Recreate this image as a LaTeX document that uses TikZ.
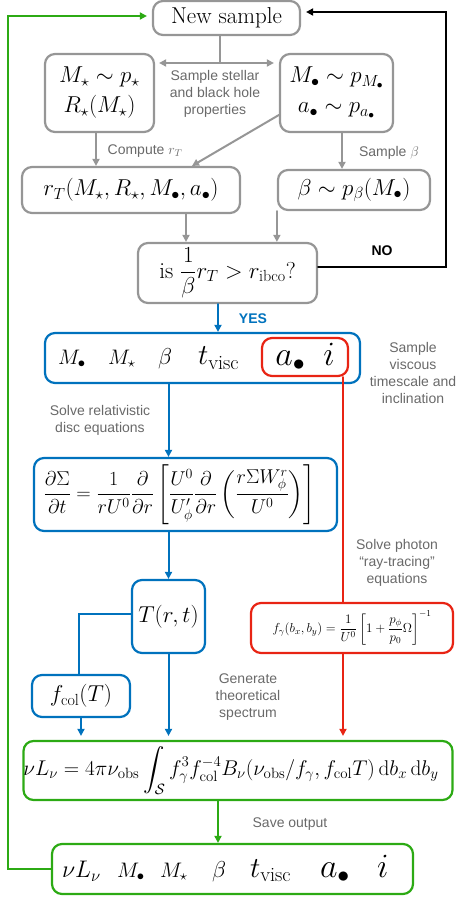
\RequirePackage{fix-cm}
\documentclass[tikz,border=0pt]{standalone}
\usepackage{amsmath,amssymb}
\usepackage{fontspec}
\newfontfamily\labelsf{Liberation Sans}
\usetikzlibrary{arrows.meta}
\definecolor{boxgray}{RGB}{150,150,150}
\definecolor{notegray}{RGB}{105,105,105}
\definecolor{discblue}{RGB}{0,114,189}
\definecolor{rayred}{RGB}{232,36,20}
\definecolor{outgreen}{RGB}{44,170,20}

\begin{document}
\begin{tikzpicture}[x=1pt,y=-1pt,>={Triangle[length=7pt,width=7pt]},line cap=round,
  every node/.style={font=\fontsize{23}{28}\selectfont},
  box/.style={draw,rounded corners=10pt,line width=2.2pt,align=center,inner sep=0pt},
  graybox/.style={box,draw=boxgray},
  bluebox/.style={box,draw=discblue},
  redbox/.style={box,draw=rayred},
  greenbox/.style={box,draw=outgreen},
  note/.style={font=\labelsf\fontsize{14}{17}\selectfont,text=notegray,align=center},
  grayline/.style={draw=boxgray,line width=2pt},
  blueline/.style={draw=discblue,line width=2pt},
  redline/.style={draw=rayred,line width=2pt},
  greenline/.style={draw=outgreen,line width=2pt},
  blackline/.style={draw=black,line width=2pt}]
\useasboundingbox (0,0) rectangle (457,899);

\node[graybox,minimum width=147,minimum height=34] (new) at (226.5,18) {New sample};
\node[graybox,minimum width=109,minimum height=78] (star) at (99.5,93) {$M_\star\sim p_\star$\\[2pt]$R_\star(M_\star)$};
\node[graybox,minimum width=113,minimum height=78] (hole) at (336.5,93) {$M_\bullet\sim p_{M_\bullet}$\\[2pt]$a_\bullet\sim p_{a_\bullet}$};
\node[graybox,minimum width=218,minimum height=46] (rt) at (131,190) {$r_T(M_\star,R_\star,M_\bullet,a_\bullet)$};
\node[graybox,minimum width=152,minimum height=40] (beta) at (354,190) {$\beta\sim p_\beta(M_\bullet)$};
\node[graybox,minimum width=179,minimum height=60] (test) at (227.5,273) {is $\dfrac{1}{\beta}r_T>r_{\rm ibco}$?};

\node[bluebox,minimum width=315,minimum height=50] (par) at (202.5,358) {\makebox[311pt][l]{\hspace*{11pt}%
\rlap{\fontsize{21}{25}\selectfont$M_\bullet$}\hspace{50pt}%
\rlap{\fontsize{21}{25}\selectfont$M_\star$}\hspace{50pt}%
\rlap{\fontsize{23}{28}\selectfont$\beta$}\hspace{40pt}%
\rlap{\fontsize{29}{34}\selectfont$t_{\rm visc}$}}};
\node[redbox,minimum width=86,minimum height=38] (spin) at (305,357) {\fontsize{34}{40}\selectfont$a_\bullet$\hspace{18pt}$i$};

\node[bluebox,minimum width=303,minimum height=73] (disc) at (185.5,494.5) {\fontsize{20}{24}\selectfont$\displaystyle\frac{\partial\Sigma}{\partial t}=\frac{1}{rU^0}\frac{\partial}{\partial r}\left[\frac{U^0}{U^\prime_\phi}\frac{\partial}{\partial r}\left(\frac{r\Sigma W^r_\phi}{U^0}\right)\right]$\hspace{12pt}};
\node[bluebox,minimum size=73] (temp) at (168.5,616.5) {$T(r,t)$};
\node[redbox,minimum width=202,minimum height=50] (ray) at (352,628) {\fontsize{13}{16}\selectfont$f_\gamma(b_x,b_y)=\dfrac{1}{U^0}\left[1+\dfrac{p_\phi}{p_0}\Omega\right]^{-1}$};
\node[bluebox,minimum width=98,minimum height=42] (fcol) at (81,696) {$f_{\rm col}(T)$};
\node[greenbox,minimum width=428,minimum height=59] (spec) at (238,770.5) {\fontsize{21.3}{26}\selectfont$\displaystyle\nu L_\nu=4\pi\nu_{\rm obs}\int_{\mathcal{S}}f_\gamma^3f_{\rm col}^{-4}B_\nu(\nu_{\rm obs}/f_\gamma,f_{\rm col}T)\,{\rm d}b_x\,{\rm d}b_y$\hspace{14pt}};
\node[greenbox,minimum width=361,minimum height=50] (out) at (232.5,869) {\makebox[357pt][l]{\hspace*{8pt}%
\rlap{\fontsize{24}{28}\selectfont$\nu L_\nu$}\hspace{55pt}%
\rlap{\fontsize{21}{25}\selectfont$M_\bullet$}\hspace{43pt}%
\rlap{\fontsize{21}{25}\selectfont$M_\star$}\hspace{52pt}%
\rlap{\fontsize{23}{28}\selectfont$\beta$}\hspace{38pt}%
\rlap{\fontsize{29}{34}\selectfont$t_{\rm visc}$}\hspace{70pt}%
\rlap{\fontsize{34}{40}\selectfont$a_\bullet$}\hspace{57pt}%
\rlap{\fontsize{34}{40}\selectfont$i$}}};

\node[note] (props) at (215,94) {Sample stellar\\and black hole\\properties};
\node[note] (comp) at (145,151) {Compute $r_T$};
\node[note] (samp) at (389,153) {Sample $\beta$};
\node[note] (visc) at (413,373) {Sample\\viscous\\timescale and\\inclination};
\node[note] (solve) at (100,420) {Solve relativistic\\disc equations};
\node[note] (photon) at (397,563) {Solve photon\\“ray-tracing”\\equations};
\node[note] (gen) at (248,697) {Generate\\theoretical\\spectrum};
\node[note] (save) at (290,824) {Save output};
\node[note,font=\labelsf\bfseries\fontsize{14}{17}\selectfont,text=black] (no) at (382,251) {NO};
\node[note,font=\labelsf\bfseries\fontsize{14}{17}\selectfont,text=discblue] (yes) at (253,319) {YES};

\coordinate (fork) at (220,63);
\draw[grayline] (new.south -| fork) -- (fork);
\draw[grayline,<->,shorten <=4pt,shorten >=5pt] (star.east |- fork) -- (hole.west |- fork);
\draw[grayline,->] (96,0 |- star.south) -- (96,0 |- rt.north);
\draw[grayline,->] ([yshift=-22pt]hole.west) -- ([xshift=61pt]rt.north);
\draw[grayline,->] (342,0 |- hole.south) -- (342,0 |- beta.north);
\draw[grayline,->] (186,0 |- rt.south) -- (186,0 |- test.north);
\draw[grayline,->] (beta.south west) -- (beta.south west |- test.north);
\draw[blackline,->,shorten >=5pt] ([yshift=6pt]test.east) -| (446,12) -- (new.east |- 0,12);
\draw[blueline,->] (218,0 |- test.south) -- (218,0 |- par.north);
\draw[blueline,->] (temp.north |- par.south) -- (temp.north |- disc.north);
\draw[blueline,->] (temp.north |- disc.south) -- (temp.north);
\draw[blueline] ([yshift=3pt]temp.west) -| (79,0 |- fcol.north);
\draw[blueline,->,shorten >=4pt] (temp.south) -- (temp.south |- spec.north);
\draw[blueline,->,shorten >=4pt] (fcol.south) -- (fcol.south |- spec.north);
\draw[redline] (343,0 |- spin.south) -- (343,0 |- ray.north);
\draw[redline,->,shorten >=4pt] (343,0 |- ray.south) -- (343,0 |- spec.north);
\draw[greenline,->] (218,0 |- spec.south) -- (218,0 |- out.north);
\draw[greenline,->,shorten >=5pt] (out.west) -| (8,16) -- (new.west |- 0,16);
\end{tikzpicture}
\end{document}
